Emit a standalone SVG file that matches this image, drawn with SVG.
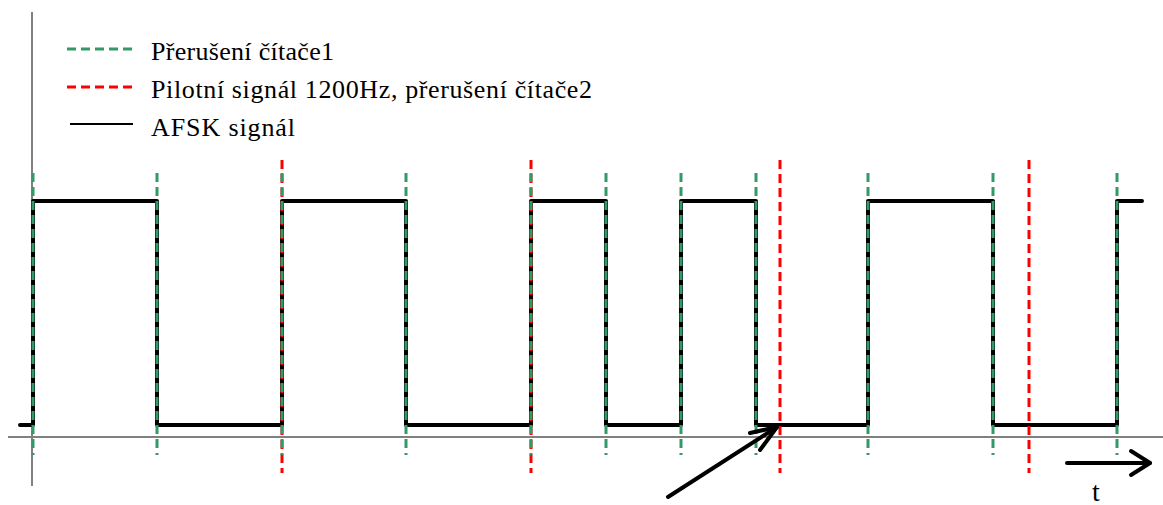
<svg xmlns="http://www.w3.org/2000/svg" width="1163" height="505" viewBox="0 0 1163 505">
<style>
.axis{stroke:#808080;stroke-width:2;fill:none}
.sig{stroke:#000;stroke-width:4;fill:none;stroke-linejoin:round;stroke-linecap:round}
.g{stroke:#339966;stroke-width:3;stroke-dasharray:9 5;fill:none}
.r{stroke:#ff0000;stroke-width:3;stroke-dasharray:9 5;fill:none}
.arr{stroke:#000;stroke-width:4;fill:none;stroke-linecap:round;stroke-linejoin:round}
.txt{font-family:"Liberation Serif","Times New Roman",serif;font-size:26px;fill:#000}
</style>
<rect width="1163" height="505" fill="#fff"/>
<g id="axes">
<line class="axis" x1="32" y1="12" x2="32" y2="486"/>
<line class="axis" x1="8" y1="437" x2="1163" y2="437"/>
</g>
<g id="legend">
<line class="g" x1="67" y1="49" x2="133" y2="49"/>
<line class="r" x1="67" y1="87" x2="133" y2="87"/>
<line x1="70" y1="124" x2="133" y2="124" stroke="#000" stroke-width="2"/>
<text class="txt" x="151" y="60" textLength="183" lengthAdjust="spacing">Přerušení čítače1</text>
<text class="txt" x="151" y="98" textLength="441" lengthAdjust="spacing">Pilotní signál 1200Hz, přerušení čítače2</text>
<text class="txt" x="151" y="136" textLength="144" lengthAdjust="spacing">AFSK signál</text>
</g>
<g id="signal">
<polyline class="sig" points="20,425 33,425 33,201 157,201 157,425 282,425 282,201 406,201 406,425 531,425 531,201 606,201 606,425 681,425 681,201 756,201 756,425 868,425 868,201 993,201 993,425 1117,425 1117,201 1142,201"/>
</g>
<g id="connectors">
<g id="red-lines">
<line class="r" x1="282" y1="160" x2="282" y2="473"/>
<line class="r" x1="531" y1="160" x2="531" y2="473"/>
<line class="r" x1="780" y1="160" x2="780" y2="473"/>
<line class="r" x1="1029" y1="160" x2="1029" y2="473"/>
</g>
<g id="green-lines">
<line class="g" x1="33" y1="173" x2="33" y2="455"/>
<line class="g" x1="157" y1="173" x2="157" y2="455"/>
<line class="g" x1="282" y1="173" x2="282" y2="455"/>
<line class="g" x1="406" y1="173" x2="406" y2="455"/>
<line class="g" x1="531" y1="173" x2="531" y2="455"/>
<line class="g" x1="606" y1="173" x2="606" y2="455"/>
<line class="g" x1="681" y1="173" x2="681" y2="455"/>
<line class="g" x1="756" y1="173" x2="756" y2="455"/>
<line class="g" x1="868" y1="173" x2="868" y2="455"/>
<line class="g" x1="993" y1="173" x2="993" y2="455"/>
<line class="g" x1="1117" y1="173" x2="1117" y2="455"/>
</g>
<g id="pointer-arrow">
<line class="arr" x1="668" y1="497" x2="777" y2="427"/>
<polyline class="arr" points="750,433 777,427 760,450"/>
</g>
<g id="time-arrow">
<line class="arr" x1="1067" y1="463" x2="1150" y2="463"/>
<polyline class="arr" points="1131,451 1150,463 1131,475"/>
</g>
</g>
<text class="txt" x="1092" y="501" style="font-size:28px">t</text>
</svg>
